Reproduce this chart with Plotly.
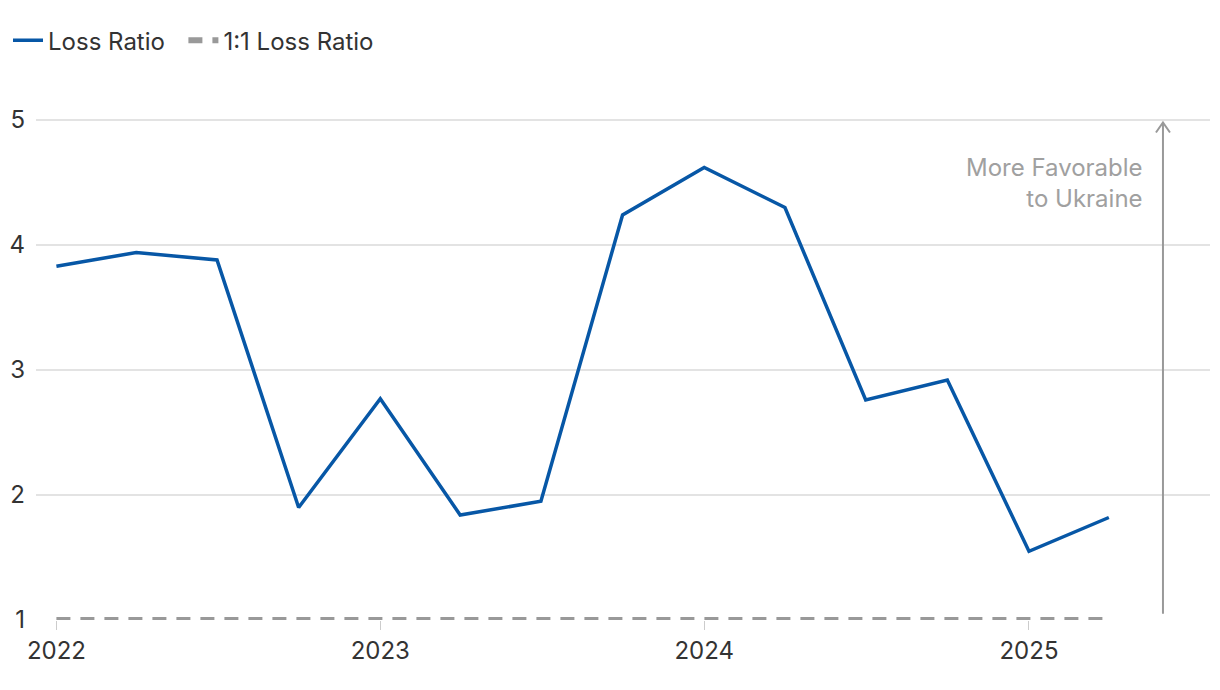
import plotly.graph_objects as go

dates = ["2022-01-01", "2022-04-01", "2022-07-01", "2022-10-01",
         "2023-01-01", "2023-04-01", "2023-07-01", "2023-10-01",
         "2024-01-01", "2024-04-01", "2024-07-01", "2024-10-01",
         "2025-01-01", "2025-04-01"]
loss_ratio = [3.83, 3.94, 3.88, 1.90, 2.77, 1.84, 1.95, 4.24,
              4.62, 4.30, 2.76, 2.92, 1.55, 1.82]
parity_dates = ["2022-01-01", "2025-04-01"]
parity_values = [1, 1]
tick_vals = ["2022-01-01", "2023-01-01", "2024-01-01", "2025-01-01"]
tick_text = ["2022", "2023", "2024", "2025"]
y_ticks = [1, 2, 3, 4, 5]
arrow_x = "2025-06-01"
arrow_y = [1.05, 4.98]
note_text = "More Favorable<br>to Ukraine"

FONT = "Inter, Roboto, Arial, sans-serif"
PAD = "\u00a0\u00a0"

fig = go.Figure()
fig.add_trace(go.Scatter(
    x=dates, y=loss_ratio, mode="lines", name="Loss Ratio" + PAD,
    line=dict(color="#0757a6", width=3.5)))
fig.add_trace(go.Scatter(
    x=parity_dates, y=parity_values, mode="lines", name="1:1 Loss Ratio",
    line=dict(color="#999999", width=6, dash="14px,10px")))

# vertical arrow
fig.add_shape(type="line", xref="x", yref="y",
              x0=arrow_x, x1=arrow_x, y0=arrow_y[0], y1=arrow_y[1],
              line=dict(color="#999999", width=2))
fig.add_shape(type="path", xref="x", yref="y",
              xsizemode="pixel", ysizemode="pixel",
              xanchor=arrow_x, yanchor=arrow_y[1],
              path="M -7,-10 L 0,0 L 7,-10",
              line=dict(color="#999999", width=2))

fig.add_annotation(x=arrow_x, y=4.50, xref="x", yref="y",
                   text=note_text, showarrow=False,
                   xanchor="right", yanchor="middle", xshift=-18,
                   align="right",
                   font=dict(family=FONT, size=24, color="#a0a0a0"))

fig.update_layout(
    width=1212, height=682,
    margin=dict(l=28, r=10, t=92, b=70, autoexpand=False),
    paper_bgcolor="white", plot_bgcolor="white",
    font=dict(family=FONT, size=24, color="#333333"),
    showlegend=True,
    legend=dict(orientation="h", xref="container", yref="container",
                x=0.0, y=0.985, xanchor="left", yanchor="top",
                font=dict(family=FONT, size=24, color="#333333"),
                itemwidth=30, tracegroupgap=0),
    xaxis=dict(type="date", range=["2021-12-09", "2025-07-24"],
               tickvals=tick_vals, ticktext=tick_text,
               showgrid=False, zeroline=False, showline=False,
               automargin=False,
               ticks="outside", ticklen=9, tickcolor="#cccccc",
               tickfont=dict(family=FONT, size=24, color="#333333")),
    yaxis=dict(range=[1, 5.16], tickvals=y_ticks,
               showgrid=True, gridcolor="#e3e3e3", gridwidth=1.5,
               zeroline=False, showline=False, ticks="",
               automargin=False, ticklabelstandoff=10,
               tickfont=dict(family=FONT, size=24, color="#333333")),
)

fig.write_html("out.html")
